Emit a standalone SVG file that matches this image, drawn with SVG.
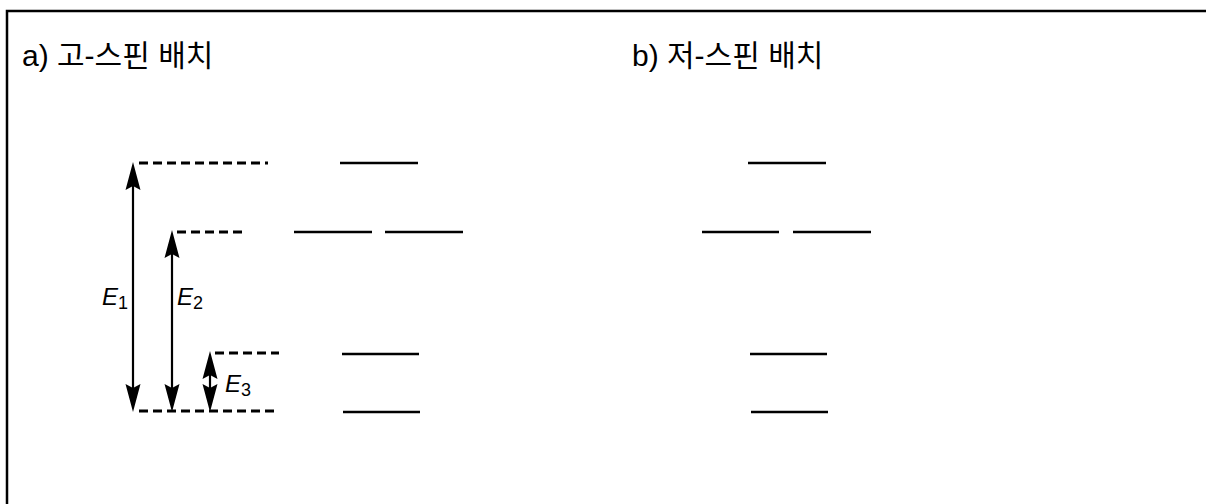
<svg xmlns="http://www.w3.org/2000/svg" width="1206" height="504" viewBox="0 0 1206 504">
<style>
.lvl{stroke:#000;stroke-width:2.6;fill:none}
.dash{stroke:#000;stroke-width:2.8;stroke-dasharray:9 5;fill:none}
.shaft{stroke:#000;stroke-width:2.2;fill:none}
.title{font-family:"Liberation Sans","Noto Sans CJK KR",sans-serif;font-size:30px;fill:#000}
.lab{font-family:"Liberation Sans",Arial,sans-serif;font-size:24px;font-style:italic;fill:#000}
.sub{font-size:18px;font-style:normal}
</style>
<defs>
<path id="ah" d="M0,0 L-7.5,28 L0,24 L7.5,28 Z" fill="#000"/>
</defs>
<rect x="7" y="11" width="1230" height="530" fill="#fff" stroke="#000" stroke-width="2.5"/>
<g id="title-a"><text class="title" x="22" y="66">a) 고-스핀 배치</text></g>
<g id="title-b"><text class="title" x="632" y="66">b) 저-스핀 배치</text></g>
<g id="levels-a">
<line class="lvl" x1="340" y1="163" x2="418" y2="163"/>
<line class="lvl" x1="294" y1="232" x2="372" y2="232"/>
<line class="lvl" x1="385" y1="232" x2="463" y2="232"/>
<line class="lvl" x1="342" y1="354" x2="419" y2="354"/>
<line class="lvl" x1="343" y1="412" x2="420" y2="412"/>
</g>
<g id="levels-b">
<line class="lvl" x1="748" y1="163" x2="826" y2="163"/>
<line class="lvl" x1="702" y1="232" x2="779" y2="232"/>
<line class="lvl" x1="793" y1="232" x2="871" y2="232"/>
<line class="lvl" x1="750" y1="354" x2="827" y2="354"/>
<line class="lvl" x1="751" y1="412" x2="828" y2="412"/>
</g>
<g id="connectors">
<line class="dash" x1="139" y1="163" x2="268" y2="163"/>
<line class="dash" x1="177" y1="232" x2="243" y2="232"/>
<line class="dash" x1="215" y1="353" x2="279" y2="353"/>
<line class="dash" x1="139" y1="411" x2="279" y2="411"/>
<line class="shaft" x1="133" y1="180" x2="133" y2="394"/>
<use href="#ah" transform="translate(133,162)"/>
<use href="#ah" transform="translate(133,412) scale(1,-1)"/>
<line class="shaft" x1="172" y1="248" x2="172" y2="394"/>
<use href="#ah" transform="translate(172,230)"/>
<use href="#ah" transform="translate(172,412) scale(1,-1)"/>
<line class="shaft" x1="210" y1="370" x2="210" y2="394"/>
<use href="#ah" transform="translate(210,351)"/>
<use href="#ah" transform="translate(210,412) scale(1,-1)"/>
</g>
<g id="label-E1"><text class="lab" x="102" y="305">E<tspan class="sub" dy="4">1</tspan></text></g>
<g id="label-E2"><text class="lab" x="177" y="305">E<tspan class="sub" dy="4">2</tspan></text></g>
<g id="label-E3"><text class="lab" x="225" y="392">E<tspan class="sub" dy="4">3</tspan></text></g>
</svg>
